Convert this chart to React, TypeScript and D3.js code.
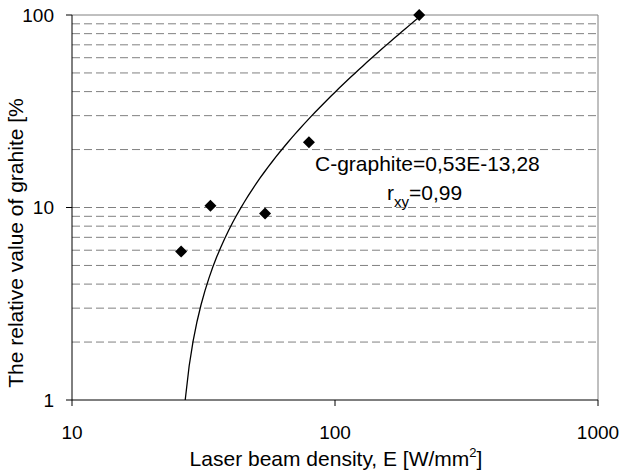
import React from "react";
import * as d3 from "d3";

// Measured points
const energy = [26, 33.6, 54.2, 79.6, 209];
const graphite = [5.9, 10.2, 9.3, 21.8, 100];

// Trendline coefficients (from the label): C = 0.53E - 13.28
const slope = 0.53;
const intercept = -13.28;

const xTicks = [10, 100, 1000];
const yTicks = [1, 10, 100];
const yGrid = [2, 3, 4, 5, 6, 7, 8, 9, 10, 20, 30, 40, 50, 60, 70, 80, 90];

const W = 622;
const H = 473;
const margin = { left: 72, right: 24, top: 15, bottom: 73 };

export default function App() {
  const x = d3.scaleLog().domain([10, 1000]).range([margin.left, W - margin.right]);
  const y = d3.scaleLog().domain([1, 100]).range([H - margin.bottom, margin.top]);

  const eStart = (1 - intercept) / slope;
  const eEnd = (100 - intercept) / slope;
  const trend = d3
    .range(0, 61)
    .map((i) => Math.exp(Math.log(eStart) + (i / 60) * (Math.log(eEnd) - Math.log(eStart))))
    .map((e) => [e, slope * e + intercept] as [number, number]);
  const line = d3
    .line<[number, number]>()
    .x((d) => x(d[0]))
    .y((d) => y(d[1]));

  const x0 = x(10), x1 = x(1000), y0 = y(1), y1 = y(100);
  const font = "'Liberation Sans', Arial, sans-serif";
  const diamond = (cx: number, cy: number, r: number) =>
    `M${cx},${cy - r}L${cx + r},${cy}L${cx},${cy + r}L${cx - r},${cy}Z`;

  return (
    <svg width={W} height={H} style={{ position: "absolute", left: 0, top: 0 }} fontFamily={font}>
      <rect width={W} height={H} fill="#fff" />
      {yGrid.map((v) => (
        <line key={v} x1={x0} x2={x1} y1={y(v)} y2={y(v)} stroke="#808080" strokeWidth={1} strokeDasharray="8,4" />
      ))}
      <line x1={x0} x2={x1} y1={y1} y2={y1} stroke="#808080" strokeWidth={1} />
      <line x1={x1} x2={x1} y1={y1} y2={y0} stroke="#808080" strokeWidth={1} />
      <line x1={x0} x2={x0} y1={y1} y2={y0} stroke="#000" strokeWidth={1} />
      <line x1={x0} x2={x1} y1={y0} y2={y0} stroke="#000" strokeWidth={1} />
      {yTicks.map((v) => (
        <g key={v}>
          <line x1={x0 - 6} x2={x0} y1={y(v)} y2={y(v)} stroke="#000" />
          <text x={54} y={y(v)} dy="0.36em" textAnchor="end" fontSize={19}>{v}</text>
        </g>
      ))}
      {xTicks.map((v) => (
        <g key={v}>
          <line x1={x(v)} x2={x(v)} y1={y0} y2={y0 + 6} stroke="#000" />
          <text x={x(v)} y={439} textAnchor="middle" fontSize={19}>{v}</text>
        </g>
      ))}
      <path d={line(trend) || ""} fill="none" stroke="#000" strokeWidth={1.3} />
      {energy.map((e, i) => (
        <path key={i} d={diamond(x(e), y(graphite[i]), 6)} fill="#000" />
      ))}
      <text x={315} y={171} fontSize={21}>C-graphite=0,53E-13,28</text>
      <text x={387} y={200} fontSize={21}>
        r<tspan fontSize={15} dy={7}>xy</tspan><tspan dy={-7}>=0,99</tspan>
      </text>
      <text x={336} y={466} textAnchor="middle" fontSize={21}>
        Laser beam density, E [W/mm<tspan fontSize={13} dy={-9}>2</tspan><tspan dy={9}>]</tspan>
      </text>
      <text transform={`translate(23,243) rotate(-90)`} textAnchor="middle" fontSize={21}>
        The relative value of grahite [%
      </text>
    </svg>
  );
}
